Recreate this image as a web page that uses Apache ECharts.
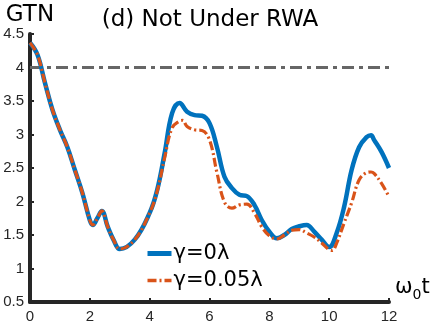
<!DOCTYPE html>
<html>
<head>
<meta charset="utf-8">
<script src="https://cdn.jsdelivr.net/npm/echarts@6/dist/echarts.min.js"></script>
<style>
  html, body { margin: 0; padding: 0; background: #fff; }
  #main { width: 436px; height: 327px; }
</style>
</head>
<body>
<div id="main"></div>
<script>
// ω0 t 取样点
var tBlue = [0, 0.25, 0.5, 0.75, 1, 1.25, 1.5, 1.75, 2, 2.1, 2.25, 2.4, 2.6, 2.8, 3, 3.5, 4, 4.25, 4.5, 4.75, 5, 5.25, 5.5, 5.75, 6, 6.25, 6.5, 6.75, 7, 7.25, 7.5, 7.75, 8, 8.25, 8.5, 8.75, 9, 9.25, 9.5, 9.75, 10, 10.25, 10.5, 10.75, 11, 11.25, 11.4, 11.5, 11.75, 12];
var gtnBlue = [4.37, 4.19, 3.77, 3.37, 3.07, 2.81, 2.47, 2.13, 1.72, 1.65, 1.75, 1.86, 1.62, 1.42, 1.29, 1.43, 1.83, 2.17, 2.72, 3.32, 3.47, 3.34, 3.29, 3.28, 3.17, 2.81, 2.37, 2.2, 2.1, 2.08, 1.95, 1.72, 1.55, 1.45, 1.5, 1.59, 1.63, 1.65, 1.55, 1.43, 1.32, 1.53, 1.92, 2.47, 2.81, 2.96, 2.99, 2.92, 2.74, 2.5];
var tRed = [0, 0.25, 0.5, 0.75, 1, 1.25, 1.5, 1.75, 2, 2.1, 2.25, 2.4, 2.6, 2.8, 3, 3.5, 4, 4.25, 4.5, 4.75, 5, 5.1, 5.25, 5.5, 5.75, 6, 6.25, 6.5, 6.75, 7, 7.25, 7.5, 7.75, 8, 8.25, 8.5, 8.75, 9, 9.25, 9.5, 9.75, 10, 10.1, 10.25, 10.5, 10.75, 11, 11.25, 11.4, 11.5, 11.75, 12];
var gtnRed = [4.37, 4.19, 3.77, 3.37, 3.07, 2.81, 2.47, 2.13, 1.72, 1.65, 1.75, 1.86, 1.62, 1.42, 1.29, 1.43, 1.83, 2.15, 2.65, 3.1, 3.2, 3.21, 3.12, 3.07, 3.06, 2.92, 2.43, 1.99, 1.9, 1.95, 1.96, 1.83, 1.62, 1.49, 1.44, 1.5, 1.57, 1.58, 1.53, 1.47, 1.38, 1.28, 1.27, 1.38, 1.68, 1.98, 2.32, 2.43, 2.44, 2.42, 2.27, 2.07];
var refLineX = [0, 12];
var refLineY = [4, 4];
var legendNames = ['γ=0λ', 'γ=0.05λ'];

function pairs(xs, ys) {
    var out = [];
    for (var i = 0; i < xs.length; i++) out.push([xs[i], ys[i]]);
    return out;
}

var chart = echarts.init(document.getElementById('main'));
var axisColor = '#262626';
var font = 'Liberation Sans';
var wide = 'DejaVu Sans';

var option = {
    animation: false,
    title: {
        text: '(d) Not Under RWA',
        left: 205, top: 4, textAlign: 'center',
        textStyle: { fontFamily: wide, fontSize: 23, fontWeight: 'normal', color: '#000' }
    },
    grid: { left: 30, right: 47, top: 34, bottom: 25 },
    legend: {
        data: [
            { name: legendNames[0], lineStyle: { width: 5 } },
            { name: legendNames[1], lineStyle: { width: 3.5 } }
        ],
        orient: 'vertical',
        left: 140, top: 238,
        itemWidth: 24, itemHeight: 14, itemGap: 6,
        itemStyle: { opacity: 0 },
        textStyle: { fontFamily: wide, fontSize: 21, color: '#000', padding: [0, 0, 0, -3] }
    },
    xAxis: {
        type: 'value', min: 0, max: 12, interval: 2,
        name: '{a|ω}{s|0}{a|t}',
        nameLocation: 'end', nameGap: 6,
        nameTextStyle: {
            verticalAlign: 'bottom',
            rich: {
                a: { fontFamily: wide, fontSize: 21, color: '#000' },
                s: { fontFamily: wide, fontSize: 14, color: '#000', padding: [14, 0, 0, 0] }
            }
        },
        axisLine: { lineStyle: { color: axisColor, width: 4 } },
        axisTick: { inside: true, length: 4, lineStyle: { color: axisColor, width: 2 } },
        axisLabel: { fontFamily: font, fontSize: 15, color: axisColor, margin: 7 },
        splitLine: { show: false }
    },
    yAxis: {
        type: 'value', min: 0.5, max: 4.5, interval: 0.5,
        name: 'GTN',
        nameLocation: 'end', nameGap: 6,
        nameTextStyle: { fontFamily: wide, fontSize: 23, color: '#000', align: 'center' },
        axisLine: { lineStyle: { color: axisColor, width: 4 } },
        axisTick: { inside: true, length: 4, lineStyle: { color: axisColor, width: 2 } },
        axisLabel: { fontFamily: font, fontSize: 15, color: axisColor, margin: 6 },
        splitLine: { show: false }
    },
    series: [
        {
            name: 'ref', type: 'line', data: pairs(refLineX, refLineY), symbol: 'none',
            lineStyle: { color: '#666', width: 3, type: [12, 5, 4, 5] }, z: 1
        },
        {
            name: legendNames[0], type: 'line', data: pairs(tBlue, gtnBlue),
            symbol: 'none', smooth: 0.4,
            lineStyle: { color: '#0072BD', width: 4.5 }, itemStyle: { color: '#0072BD' }, z: 2
        },
        {
            name: legendNames[1], type: 'line', data: pairs(tRed, gtnRed),
            symbol: 'none', smooth: 0.4,
            lineStyle: { color: '#D95319', width: 3.2, type: [9, 3, 2, 3] }, itemStyle: { color: '#D95319' }, z: 3
        }
    ]
};
chart.setOption(option);
</script>
</body>
</html>
